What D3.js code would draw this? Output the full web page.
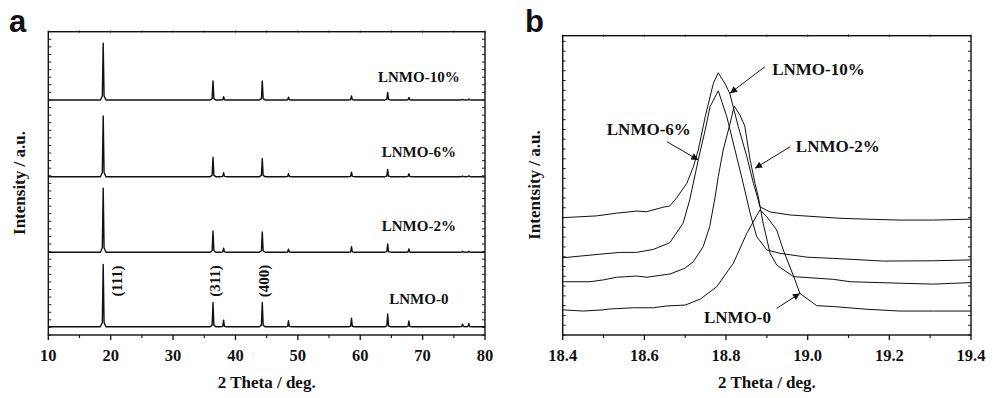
<!DOCTYPE html>
<html><head><meta charset="utf-8">
<script src="https://cdn.jsdelivr.net/npm/d3@7/dist/d3.min.js"></script>
<style>body{margin:0;background:#fff}svg{display:block}</style>
</head><body>
<svg id="c" width="1000" height="398"></svg>
<script>
// ---------- Panel a data ----------
const peakPos = [18.8, 36.4, 38.1, 44.3, 48.5, 58.6, 64.4, 67.8, 76.4, 77.4];
const peakLabels = ["(111)", "(311)", "(400)"];
const peakLabelPos = [21.0, 36.7, 44.6];
const seriesA = ["LNMO-10%", "LNMO-6%", "LNMO-2%", "LNMO-0"];
const offsetsA = [77.5, 52.2, 27.3, 2.7];
const heights10 = [18.7, 6.3, 1.1, 6.3, 0.9, 1.3, 2.5, 0.8, 0.2, 0.3];
const heights6  = [20.0, 6.4, 1.3, 6.0, 1.0, 1.5, 2.4, 1.0, 0.2, 0.3];
const heights2  = [21.1, 7.0, 1.3, 6.7, 1.0, 1.8, 2.7, 1.1, 0.3, 0.3];
const heights0  = [20.6, 8.0, 2.2, 8.0, 2.0, 2.8, 4.2, 1.9, 0.9, 1.1];
const labelYA = [83.5, 58.8, 34.3, 10.1];
const xTicksA = [10, 20, 30, 40, 50, 60, 70, 80];

// ---------- Panel b data ----------
const b10 = [[18.40,39.2],[18.483,39.8],[18.532,40.7],[18.581,41.4],[18.606,41.2],[18.646,42.7],[18.662,43.1],[18.679,45.8],[18.704,50.7],[18.720,56.2],[18.732,61.8],[18.749,72.9],[18.769,84.1],[18.781,87.6],[18.797,84.1],[18.809,80.8],[18.830,69.6],[18.851,59.6],[18.867,50.7],[18.879,45.1],[18.883,42.8],[18.908,41.1],[18.957,40.1],[19.079,39.0],[19.145,38.7],[19.226,38.4],[19.308,38.4],[19.40,38.7]];
const b6 = [[18.40,25.8],[18.491,27.0],[18.540,27.6],[18.581,27.6],[18.622,28.6],[18.662,30.8],[18.695,37.4],[18.711,45.1],[18.732,58.5],[18.749,68.5],[18.761,76.3],[18.781,81.6],[18.802,72.9],[18.822,61.8],[18.842,50.7],[18.859,40.7],[18.875,32.9],[18.900,28.4],[18.932,27.3],[18.998,26.0],[19.063,25.6],[19.185,24.7],[19.308,24.8],[19.40,25.1]];
const b2 = [[18.40,17.8],[18.467,17.8],[18.499,18.4],[18.532,19.3],[18.581,19.7],[18.606,19.3],[18.663,20.4],[18.699,22.3],[18.720,24.5],[18.744,29.5],[18.760,36.2],[18.772,45.1],[18.781,52.9],[18.793,61.8],[18.810,70.7],[18.820,76.5],[18.834,73.5],[18.846,69.8],[18.859,58.5],[18.871,50.7],[18.879,46.2],[18.891,37.3],[18.908,27.3],[18.924,23.4],[18.965,19.5],[19.063,18.6],[19.104,17.8],[19.226,17.3],[19.308,17.0],[19.40,17.5]];
const b0 = [[18.40,8.4],[18.450,8.0],[18.499,8.4],[18.516,8.7],[18.573,9.1],[18.622,9.1],[18.655,9.7],[18.700,10.0],[18.737,12.0],[18.777,16.1],[18.818,24.0],[18.851,34.0],[18.883,41.8],[18.900,39.5],[18.924,35.1],[18.940,28.5],[18.965,19.8],[18.981,13.9],[19.022,9.8],[19.063,9.5],[19.145,8.6],[19.226,8.0],[19.308,8.0],[19.40,8.0]];
const seriesB = ["LNMO-10%", "LNMO-6%", "LNMO-2%", "LNMO-0"];
// label anchor (start of text) and arrow [from, to] in data units
const labelPosB = [[18.913, 86.9], [18.508, 66.8], [18.971, 61.2], [18.746, 4.1]];
const arrowsB = [
  [[18.895, 89.6], [18.810, 80.8]],
  [[18.655, 64.6], [18.732, 58.5]],
  [[18.957, 62.9], [18.871, 55.7]],
  [[18.924, 8.9], [18.981, 13.9]]
];
const xTicksB = [18.4, 18.6, 18.8, 19.0, 19.2, 19.4];

// ---------- drawing ----------
const svg = d3.select("#c");
const serif = "'Liberation Serif','Times New Roman',serif";
const sans = "'Liberation Sans',Arial,sans-serif";

svg.append("defs").append("marker")
  .attr("id", "arr").attr("viewBox", "0 0 10 10").attr("refX", 10).attr("refY", 5)
  .attr("markerWidth", 9).attr("markerHeight", 7).attr("markerUnits", "userSpaceOnUse")
  .attr("orient", "auto")
  .append("path").attr("d", "M0,0 L10,5 L0,10 Z").attr("fill", "#111");

function frame(x, y, majorX, minorX, yStep, fmt) {
  const [x0, x1] = x.range(), [y0, y1] = y.range();
  const g = svg.append("g");
  const ticksY = d3.range(y.domain()[0], y.domain()[1] + 1e-6, yStep);
  g.selectAll(".yl").data(ticksY).join("line")
    .attr("x1", x0).attr("x2", x0 + 3).attr("y1", d => y(d)).attr("y2", d => y(d))
    .attr("stroke", "#222").attr("stroke-width", 1);
  g.selectAll(".yr").data(ticksY).join("line")
    .attr("x1", x1).attr("x2", x1 - 3).attr("y1", d => y(d)).attr("y2", d => y(d))
    .attr("stroke", "#222").attr("stroke-width", 1);
  g.selectAll(".xb").data(majorX).join("line")
    .attr("x1", d => x(d)).attr("x2", d => x(d)).attr("y1", y0).attr("y2", y0 + 5)
    .attr("stroke", "#111").attr("stroke-width", 1.3);
  g.selectAll(".xm").data(minorX).join("line")
    .attr("x1", d => x(d)).attr("x2", d => x(d)).attr("y1", y0).attr("y2", y0 + 3)
    .attr("stroke", "#111").attr("stroke-width", 1.1);
  g.selectAll(".xt").data(majorX.concat(minorX)).join("line")
    .attr("x1", d => x(d)).attr("x2", d => x(d)).attr("y1", y1 - 1.5).attr("y2", y1 + 1.5)
    .attr("stroke", "#888").attr("stroke-width", 1);
  g.append("rect").attr("x", x0).attr("y", y1).attr("width", x1 - x0).attr("height", y0 - y1)
    .attr("fill", "none").attr("stroke", "#111").attr("stroke-width", 1.4);
  g.selectAll(".tl").data(majorX).join("text")
    .attr("x", d => x(d)).attr("y", 361).attr("text-anchor", "middle")
    .attr("font-family", serif).attr("font-weight", "bold").attr("font-size", 16.5)
    .attr("fill", "#111").text(fmt);
}

// ----- Panel a -----
const xA = d3.scaleLinear().domain([10, 80]).range([48.3, 485]);
const yA = d3.scaleLinear().domain([0, 100]).range([335, 31.7]);
const heightsA = [heights10, heights6, heights2, heights0];
const lineA = d3.line().x(d => xA(d[0])).y(d => yA(d[1]));
heightsA.forEach((hs, i) => {
  const off = offsetsA[i];
  const pts = [[10, off]];
  peakPos.forEach((p, j) => {
    const h = hs[j];
    pts.push([p - 0.45, off], [p - 0.14, off + h * 0.07], [p, off + h], [p + 0.14, off + h * 0.07], [p + 0.45, off]);
  });
  pts.push([80, off]);
  svg.append("path").attr("d", lineA(pts)).attr("fill", "none")
    .attr("stroke", "#111").attr("stroke-width", 1.4).attr("stroke-linejoin", "round");
});
frame(xA, yA, xTicksA, [15, 25, 35, 45, 55, 65, 75], 2.5, d => d);
seriesA.forEach((s, i) => {
  svg.append("text").attr("x", xA(69.4)).attr("y", yA(labelYA[i])).attr("text-anchor", "middle")
    .attr("font-family", serif).attr("font-weight", "bold").attr("font-size", 15)
    .attr("fill", "#111").text(s);
});
peakLabels.forEach((t, i) => {
  const cx = xA(peakLabelPos[i]) + 5, cy = 281;
  svg.append("text").attr("transform", `translate(${cx},${cy}) rotate(-90)`)
    .attr("text-anchor", "middle").attr("y", 0)
    .attr("font-family", serif).attr("font-weight", "bold").attr("font-size", 15)
    .attr("fill", "#111").text(t);
});
svg.append("text").attr("x", 266.7).attr("y", 388).attr("text-anchor", "middle")
  .attr("font-family", serif).attr("font-weight", "bold").attr("font-size", 17)
  .attr("fill", "#111").text("2 Theta / deg.");
svg.append("text").attr("transform", `translate(25,183) rotate(-90)`).attr("text-anchor", "middle")
  .attr("font-family", serif).attr("font-weight", "bold").attr("font-size", 17)
  .attr("fill", "#111").text("Intensity / a.u.");
svg.append("text").attr("x", 9).attr("y", 32)
  .attr("font-family", sans).attr("font-weight", "bold").attr("font-size", 31)
  .attr("fill", "#111").text("a");

// ----- Panel b -----
const xB = d3.scaleLinear().domain([18.4, 19.4]).range([562.7, 971]);
const yB = d3.scaleLinear().domain([0, 100]).range([335, 35.7]);
const lineB = d3.line().x(d => xB(d[0])).y(d => yB(d[1]));
[b10, b6, b2, b0].forEach(data => {
  svg.append("path").attr("d", lineB(data)).attr("fill", "none")
    .attr("stroke", "#111").attr("stroke-width", 1).attr("stroke-linejoin", "round");
});
frame(xB, yB, xTicksB, [18.5, 18.7, 18.9, 19.1, 19.3], 3.27, d => d3.format(".1f")(d));
seriesB.forEach((s, i) => {
  svg.append("text").attr("x", xB(labelPosB[i][0])).attr("y", yB(labelPosB[i][1]))
    .attr("font-family", serif).attr("font-weight", "bold").attr("font-size", 17)
    .attr("fill", "#111").text(s);
  const [a, b] = arrowsB[i];
  svg.append("line").attr("x1", xB(a[0])).attr("y1", yB(a[1])).attr("x2", xB(b[0])).attr("y2", yB(b[1]))
    .attr("stroke", "#111").attr("stroke-width", 1).attr("marker-end", "url(#arr)");
});
svg.append("text").attr("x", 766.9).attr("y", 388).attr("text-anchor", "middle")
  .attr("font-family", serif).attr("font-weight", "bold").attr("font-size", 17)
  .attr("fill", "#111").text("2 Theta / deg.");
svg.append("text").attr("transform", `translate(540,185) rotate(-90)`).attr("text-anchor", "middle")
  .attr("font-family", serif).attr("font-weight", "bold").attr("font-size", 17)
  .attr("fill", "#111").text("Intentsity / a.u.");
svg.append("text").attr("x", 525).attr("y", 32)
  .attr("font-family", sans).attr("font-weight", "bold").attr("font-size", 31)
  .attr("fill", "#111").text("b");
</script>
</body></html>
